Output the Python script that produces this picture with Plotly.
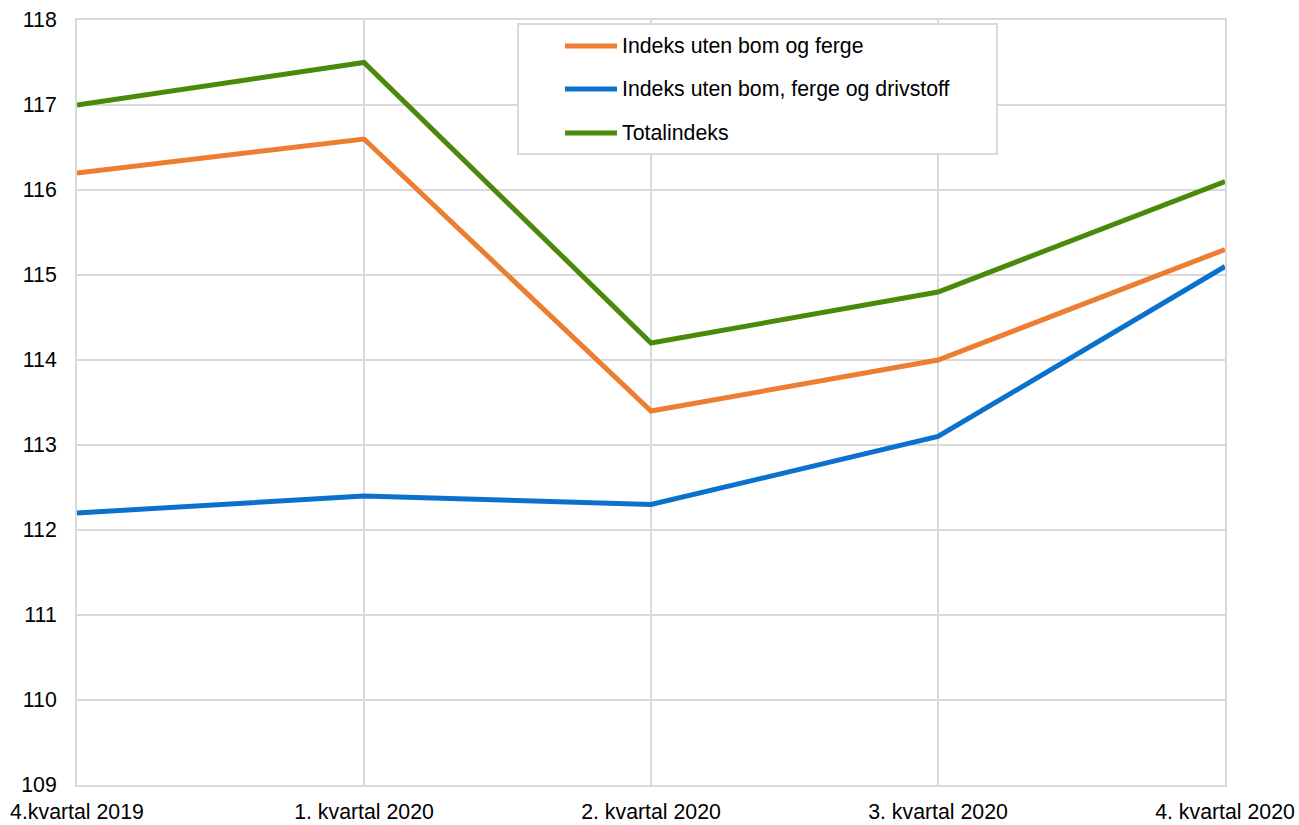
import plotly.graph_objects as go

categories = ["4.kvartal 2019", "1. kvartal 2020", "2. kvartal 2020", "3. kvartal 2020", "4. kvartal 2020"]
series_names = ["Indeks uten bom og ferge", "Indeks uten bom, ferge og drivstoff", "Totalindeks"]
orange_vals = [116.2, 116.6, 113.4, 114.0, 115.3]
blue_vals = [112.2, 112.4, 112.3, 113.1, 115.1]
green_vals = [117.0, 117.5, 114.2, 114.8, 116.1]
y_ticks = [109, 110, 111, 112, 113, 114, 115, 116, 117, 118]

colors = ["#ED7D31", "#0A72CD", "#4A8A0A"]
values = [orange_vals, blue_vals, green_vals]

W, H = 1299, 825
L, R, T, B = 77, 74, 20, 40
pw, ph = W - L - R, H - T - B
FS = 21.3

def px(x):
    return (x - L) / pw

def py(y):
    return (H - B - y) / ph

xs = list(range(len(categories)))
fig = go.Figure()
for name, vals, c in zip(series_names, values, colors):
    fig.add_trace(go.Scatter(x=xs, y=vals, mode="lines", name=name,
                             line=dict(color=c, width=5), showlegend=False))

shapes = [dict(type="rect", xref="paper", yref="paper",
               x0=px(518), x1=px(997), y0=py(154), y1=py(24),
               line=dict(color="#D9D9D9", width=2), fillcolor="white", layer="above")]
annotations = []
legend_y = [46, 89, 133]
for name, c, ly in zip(series_names, colors, legend_y):
    shapes.append(dict(type="line", xref="paper", yref="paper",
                       x0=px(565), x1=px(617), y0=py(ly), y1=py(ly),
                       line=dict(color=c, width=5), layer="above"))
    annotations.append(dict(xref="paper", yref="paper", x=px(620), y=py(ly),
                            xanchor="left", yanchor="middle", text=name, showarrow=False,
                            font=dict(size=FS, color="#000000", family="Liberation Sans, Arial")))

fig.update_layout(
    template="none",
    width=W, height=H, autosize=False,
    margin=dict(l=L, r=R, t=T, b=B, pad=0),
    paper_bgcolor="white", plot_bgcolor="white",
    font=dict(family="Liberation Sans, Arial", size=FS, color="#000000"),
    shapes=shapes, annotations=annotations,
    xaxis=dict(range=[0, 4], tickvals=xs, ticktext=categories, showgrid=True,
               gridcolor="#D9D9D9", gridwidth=2, showline=True, mirror=True,
               linecolor="#D9D9D9", linewidth=2, zeroline=False, automargin=False,
               ticks="", ticklabelstandoff=6, fixedrange=True),
    yaxis=dict(range=[109, 118], tickvals=y_ticks, showgrid=True,
               gridcolor="#D9D9D9", gridwidth=2, showline=True, mirror=True,
               linecolor="#D9D9D9", linewidth=2, zeroline=False, automargin=False,
               ticks="", ticklabelstandoff=14, fixedrange=True),
)

fig.write_html("out.html", config={"displayModeBar": False},
               post_script="document.body.style.margin='0';document.body.style.overflow='hidden';document.documentElement.style.overflow='hidden';")
